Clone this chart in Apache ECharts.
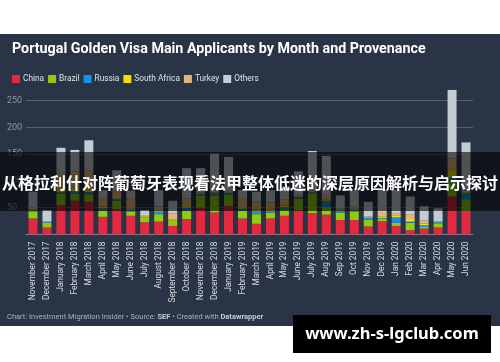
<!DOCTYPE html>
<html>
<head>
<meta charset="utf-8">
<script src="https://cdn.jsdelivr.net/npm/echarts@6/dist/echarts.min.js"></script>
<style>
html,body{margin:0;padding:0;background:#ffffff;}
#panel{position:absolute;left:0;top:34px;width:500px;height:292px;background:#293446;}
#chart{position:absolute;left:0;top:0;width:500px;height:362px;}
</style>
</head>
<body>
<div id="panel"></div>
<div id="chart"></div>
<script>
const months = ["November 2017","December 2017","January 2018","February 2018","March 2018","April 2018","May 2018","June 2018","July 2018","August 2018","September 2018","October 2018","November 2018","December 2018","January 2019","February 2019","March 2019","April 2019","May 2019","June 2019","July 2019","Aug 2019","Sep 2019","Oct 2019","Nov 2019","Dec 2019","Jan 2020","Feb 2020","Mar 2020","Apr 2020","May 2020","Jun 2020"];
const china       = [30,13,55,63,61,33,47,35,23,24,16,29,50,41,53,30,20,30,35,45,40,37,27,27,15,25,16, 8,11,13, 71,44];
const brazil      = [12, 9,21,13,14,12,16, 8, 9,14,10,16,22,32,21,14,18,11,11,22,37,15,14,15,13, 5, 6,14, 3, 8, 28,22];
const russia      = [ 3, 1, 3, 4, 4, 4, 4, 3, 0, 5, 0, 5, 4, 5, 4, 4, 6, 3, 5, 3, 2,11, 4, 4, 3, 1,10, 2, 3, 2,  7,11];
const southAfrica = [ 2, 1, 5, 5, 5, 3, 3, 2, 2, 2, 2, 3, 2, 1, 1, 3, 3, 3, 3, 1, 1, 2, 1, 2, 1, 3, 4, 5, 3, 1, 16, 2];
const turkey      = [ 3, 1,31,33,36,16,12,20, 1, 7,11,14, 6, 4, 4,17,15,13,11, 3, 3, 9, 3, 5, 2, 8, 4, 9, 6, 1, 20, 3];
const others      = [30,21,47,40,56,15,38,14,11,31,24,57,40,68,62,15,18,23,25,44,73,73,24,29,27,42,44,33,27,24,128,90];
const yTicks = [50,100,150,200,250];

const seriesDefs = [
  {name:"China", data:china, color:"#df2a42"},
  {name:"Brazil", data:brazil, color:"#8fcb10"},
  {name:"Russia", data:russia, color:"#1591e6"},
  {name:"South Africa", data:southAfrica, color:"#f8da05"},
  {name:"Turkey", data:turkey, color:"#e0b679"},
  {name:"Others", data:others, color:"#c4ccd3"}
];

const chart = echarts.init(document.getElementById('chart'), null, {renderer:'canvas'});
const font = 'Roboto, "Noto Sans", sans-serif';
const option = {
  backgroundColor: 'transparent',
  animation: false,
  title: {
    text: 'Portugal Golden Visa Main Applicants by Month and Provenance',
    left: 7, top: 37,
    textStyle: {color:'#ffffff', fontSize:14.3, fontWeight:'bold', fontFamily:font}
  },
  legend: {
    left: 7, top: 70,
    itemWidth: 8, itemHeight: 8, itemGap: 4,
    icon: 'rect',
    textStyle: {color:'#dde2e8', fontSize:8.3, fontFamily:font, padding:[0,0,0,-2]},
    data: seriesDefs.map(s => s.name)
  },
  grid: {left: 26, right: 27, top: 73.9, bottom: 127.5, containLabel: false},
  xAxis: {
    type: 'category',
    data: months,
    axisLine: {show:true, lineStyle:{color:'#7c8596', width:1}},
    axisTick: {show:false},
    axisLabel: {
      interval: 0, rotate: 90, margin: 7,
      color: '#d9dde3', fontSize: 8.3, fontFamily: font
    }
  },
  yAxis: {
    type: 'value',
    min: 0, max: 300, interval: 50,
    axisLine: {show:false},
    axisTick: {show:false},
    axisLabel: {
      align: 'left', margin: 19,
      color: '#8e97a4', fontSize: 9, fontFamily: font,
      formatter: v => (yTicks.indexOf(v) >= 0 ? String(v) : '')
    },
    splitLine: {
      show: true,
      lineStyle: {color:['rgba(0,0,0,0)','#555f70','#555f70','#555f70','#555f70','#555f70','rgba(0,0,0,0)'], width:1}
    }
  },
  series: seriesDefs.map(s => ({
    name: s.name, type: 'bar', stack: 'total',
    data: s.data, barWidth: 9,
    itemStyle: {color: s.color},
    emphasis: {disabled: true}
  })),
  graphic: {
    elements: [
      {type:'rect', z: 100, silent: true,
       shape:{x:0, y:152, width:500, height:59},
       style:{fill:'rgba(0,0,0,0.6)'}},
      {type:'text', z: 101, silent: true,
       x: 250, y: 183,
       style:{text:'从格拉利什对阵葡萄牙表现看法甲整体低迷的深层原因解析与启示探讨',
              fill:'#ffffff', font:'bold 16px "Noto Sans CJK SC"',
              align:'center', verticalAlign:'middle'}},
      {type:'text', z: 50, silent: true,
       x: 7, y: 317,
       style:{text:'{n|Chart: Investment Migration Insider • Source: }{b|SEF}{n| • Created with }{b|Datawrapper}',
              verticalAlign:'middle',
              rich:{
                n:{fill:'#a9b1bc', fontSize:7.5, fontFamily:font},
                b:{fill:'#c5ccd5', fontSize:7.5, fontFamily:font, fontWeight:'bold'}
              }}},
      {type:'rect', z: 100, silent: true,
       shape:{x:293, y:315, width:198, height:38},
       style:{fill:'#000000'}},
      {type:'text', z: 101, silent: true,
       x: 392, y: 334,
       style:{text:'www.zh-s-lgclub.com', fill:'#ffffff',
              font:'bold 16.5px "Noto Sans", sans-serif',
              align:'center', verticalAlign:'middle'}}
    ]
  }
};
chart.setOption(option);
</script>
</body>
</html>
